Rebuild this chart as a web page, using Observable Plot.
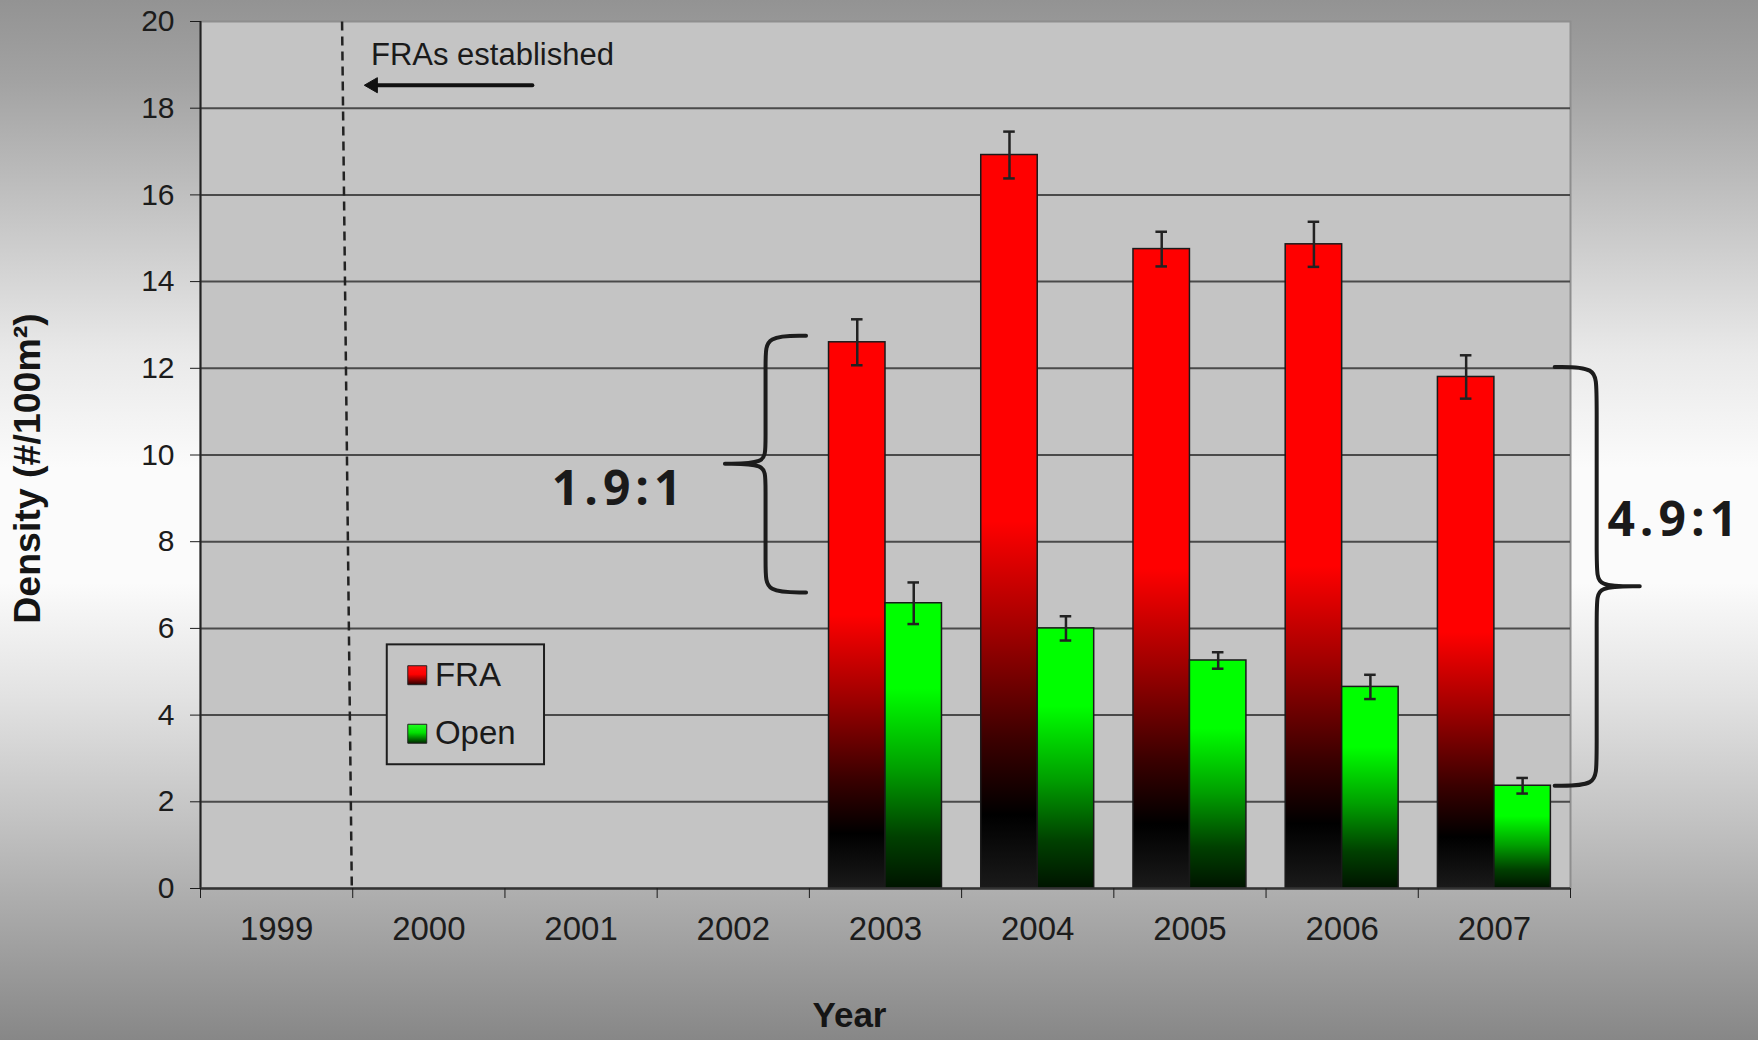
<!DOCTYPE html>
<html><head><meta charset="utf-8">
<script src="https://cdn.jsdelivr.net/npm/d3@7"></script>
<script src="https://cdn.jsdelivr.net/npm/@observablehq/plot@0.6"></script>
<style>
html,body{margin:0;padding:0}
body{width:1758px;height:1040px;overflow:hidden;
background:linear-gradient(to bottom,#939393 0%,#a3a3a3 8%,#c3c3c3 20%,#e9e9e9 34%,#fbfbfb 45%,#fbfbfb 56%,#e2e2e2 67%,#c2c2c2 79%,#a0a0a0 91%,#878787 100%);
font-family:"Liberation Sans",Arial,sans-serif}
#chart svg{display:block}
svg g[font-family*="Open Sans"]{letter-spacing:5px}
</style></head><body><div id="chart"></div>
<script>
// ---- data ----
const years = [1999, 2000, 2001, 2002, 2003, 2004, 2005, 2006, 2007];
const sampledYears = [2003, 2004, 2005, 2006, 2007];
const fraDensity = [12.6, 16.92, 14.75, 14.86, 11.8];
const fraError = [0.53, 0.54, 0.40, 0.52, 0.50];
const openDensity = [6.58, 6.0, 5.26, 4.65, 2.37];
const openError = [0.48, 0.28, 0.19, 0.28, 0.18];
const seriesNames = ["FRA", "Open"];
const yTicks = [0, 2, 4, 6, 8, 10, 12, 14, 16, 18, 20];
const ratioLabels = ["1.9:1", "4.9:1"];
const yLabel = "Density (#/100m²)";
const xLabel = "Year";
const establishedLabel = "FRAs established";

// ---- layout / style constants ----
const W = 1758, H = 1040;
const barWidth = 0.371;   // bar width in year units
const capHalf = 0.038;    // error cap half-width in year units
const ink = "#1c1c1c";

// annotation anchors (data coordinates)
const dashed = {x1: 1999.43, y1: 20, x2: 1999.494, y2: 0};
const arrowSpec = {x1: 2000.68, y1: 18.53, x2: 1999.56, y2: 18.53};
const establishedPos = {x: 1999.62, y: 19.23};
const ratioPos = [{x: 2001.25, y: 9.21}, {x: 2008.185, y: 8.48}];
const braceL = {end: 2002.478, spine: 2002.212, tip: 2001.945, top: 12.75, mid: 9.80, bottom: 6.83};
const braceR = {end: 2007.396, spine: 2007.672, tip: 2007.955, top: 12.03, mid: 6.97, bottom: 2.37};
const legendBox = {x1: 1999.727, x2: 2000.760, y1: 2.855, y2: 5.62};
const legendSwatchX = 1999.924, legendTextX = 2000.04;
const legendY = [4.92, 3.57];

const fraRows = sampledYears.map((year, i) => ({year, value: fraDensity[i], err: fraError[i]}));
const openRows = sampledYears.map((year, i) => ({year, value: openDensity[i], err: openError[i]}));
const boundaries = years.map(y => y - 0.5).concat([years[years.length - 1] + 0.5]);

function bracePoints(b) {
  const ry = 0.25;
  return [
    [b.end, b.top], [b.spine, b.top], [b.spine, b.top - 2 * ry],
    [b.spine, b.mid + 1.5 * ry], [b.spine, b.mid],
    [b.tip, b.mid], [b.tip, b.mid], [b.tip, b.mid],
    [b.spine, b.mid], [b.spine, b.mid - 1.5 * ry],
    [b.spine, b.bottom + 2 * ry], [b.spine, b.bottom], [b.end, b.bottom]
  ];
}

const errRows = [
  ...fraRows.map(d => ({...d, cx: d.year - barWidth / 2})),
  ...openRows.map(d => ({...d, cx: d.year + barWidth / 2}))
];
const caps = errRows.flatMap(d => [
  {cx: d.cx, y: d.value + d.err},
  {cx: d.cx, y: d.value - d.err}
]);

const headR = 7.2; // arrow head size (px)

const chart = Plot.plot({
  width: W, height: H,
  marginTop: 21, marginRight: 188, marginBottom: 152, marginLeft: 200,
  style: {background: "transparent", fontFamily: "'Liberation Sans', Arial, sans-serif", color: ink},
  x: {type: "linear", domain: [1998.5, 2007.5]},
  y: {domain: [0, 20]},
  marks: [
    Plot.frame({fill: "#c4c4c4", stroke: "#8e8e8e", strokeWidth: 2}),
    Plot.gridY(yTicks.filter(v => v > 0 && v < 20), {stroke: "#4a4a4a", strokeOpacity: 1, strokeWidth: 2}),
    Plot.link([dashed], {x1: "x1", y1: "y1", x2: "x2", y2: "y2", stroke: "#222", strokeWidth: 2.5, strokeDasharray: "9,6"}),
    Plot.rect(fraRows, {x1: d => d.year - barWidth, x2: d => d.year, y1: 0, y2: "value", fill: "url(#gradFRA)", stroke: "#1a1a1a", strokeWidth: 1.5}),
    Plot.rect(openRows, {x1: d => d.year, x2: d => d.year + barWidth, y1: 0, y2: "value", fill: "url(#gradOpen)", stroke: "#1a1a1a", strokeWidth: 1.5}),
    Plot.ruleX(errRows, {x: "cx", y1: d => d.value - d.err, y2: d => d.value + d.err, stroke: "#222", strokeWidth: 2.5}),
    Plot.ruleY(caps, {y: "y", x1: d => d.cx - capHalf, x2: d => d.cx + capHalf, stroke: "#222", strokeWidth: 2.5}),
    Plot.ruleX([1998.5], {stroke: "#222", strokeWidth: 2}),
    Plot.ruleY([0], {stroke: "#333", strokeWidth: 2.5}),
    Plot.axisY({ticks: yTicks, tickSize: 10, tickPadding: 16, fontSize: 30, label: null, tickFormat: d => String(d)}),
    Plot.axisX({ticks: boundaries, tickSize: 10, tickFormat: () => "", label: null}),
    Plot.axisX({ticks: years, tickSize: 0, tickPadding: 28, fontSize: 33, tickFormat: d => String(d), label: null}),
    // annotations
    Plot.arrow([arrowSpec], {x1: "x1", y1: "y1", x2: "x2", y2: "y2", stroke: "#111", strokeWidth: 4, headLength: 0, insetEnd: 12}),
    Plot.dot([arrowSpec], {x: "x2", y: "y2", symbol: "triangle2", rotate: -90, r: headR, dx: headR * 1.55, fill: "#111", stroke: "#111", strokeWidth: 1}),
    Plot.text([{...establishedPos, t: establishedLabel}], {x: "x", y: "y", text: "t", textAnchor: "start", fontSize: 31, fill: "#1a1a1a"}),
    Plot.line(bracePoints(braceL), {curve: "basis", stroke: ink, strokeWidth: 4}),
    Plot.line(bracePoints(braceR), {curve: "basis", stroke: ink, strokeWidth: 4}),
    Plot.text(ratioLabels.map((t, i) => ({t, ...ratioPos[i]})), {x: "x", y: "y", text: "t", fontSize: 48, fontWeight: 700, fontFamily: "Open Sans", fill: "#1a1a1a"}),
    // legend
    Plot.rect([legendBox], {x1: "x1", x2: "x2", y1: "y1", y2: "y2", fill: "#c4c4c4", stroke: "#1e1e1e", strokeWidth: 2}),
    Plot.dot([{x: legendSwatchX, y: legendY[0]}], {x: "x", y: "y", symbol: "square", r: 10.7, fill: "url(#swFRA)", stroke: "#222", strokeWidth: 1}),
    Plot.dot([{x: legendSwatchX, y: legendY[1]}], {x: "x", y: "y", symbol: "square", r: 10.7, fill: "url(#swOpen)", stroke: "#222", strokeWidth: 1}),
    Plot.text(seriesNames.map((t, i) => ({t, x: legendTextX, y: legendY[i]})), {x: "x", y: "y", text: "t", textAnchor: "start", fontSize: 33, fill: "#1a1a1a"}),
    // axis titles
    Plot.text([yLabel], {text: d => d, frameAnchor: "left", textAnchor: "middle", lineAnchor: "middle", rotate: -90, dx: -172.5, dy: 13.5, fontSize: 37.5, fontWeight: "bold", fill: "#151515"}),
    Plot.text([xLabel], {text: d => d, frameAnchor: "bottom", textAnchor: "middle", lineAnchor: "middle", dx: -36, dy: 127, fontSize: 35, fontWeight: "bold", fill: "#151515"})
  ]
});

const defs = d3.select(chart).insert("defs", ":first-child");
function addGrad(id, stops) {
  const g = defs.append("linearGradient").attr("id", id)
    .attr("x1", 0).attr("y1", 0).attr("x2", 0).attr("y2", 1);
  stops.forEach(([o, c]) => g.append("stop").attr("offset", o).attr("stop-color", c));
}
addGrad("gradFRA", [[0, "#ff0000"], [0.5, "#ff0000"], [0.65, "#a00000"], [0.8, "#3a0000"], [0.9, "#000000"], [1, "#1a1a1a"]]);
addGrad("gradOpen", [[0, "#00ff00"], [0.3, "#00ff00"], [0.58, "#00a000"], [0.82, "#004000"], [1, "#001400"]]);
addGrad("swFRA", [[0, "#ff1010"], [0.45, "#ff0000"], [1, "#2a0000"]]);
addGrad("swOpen", [[0, "#20ff20"], [0.45, "#00e000"], [1, "#002a00"]]);

document.getElementById("chart").appendChild(chart);
</script></body></html>
